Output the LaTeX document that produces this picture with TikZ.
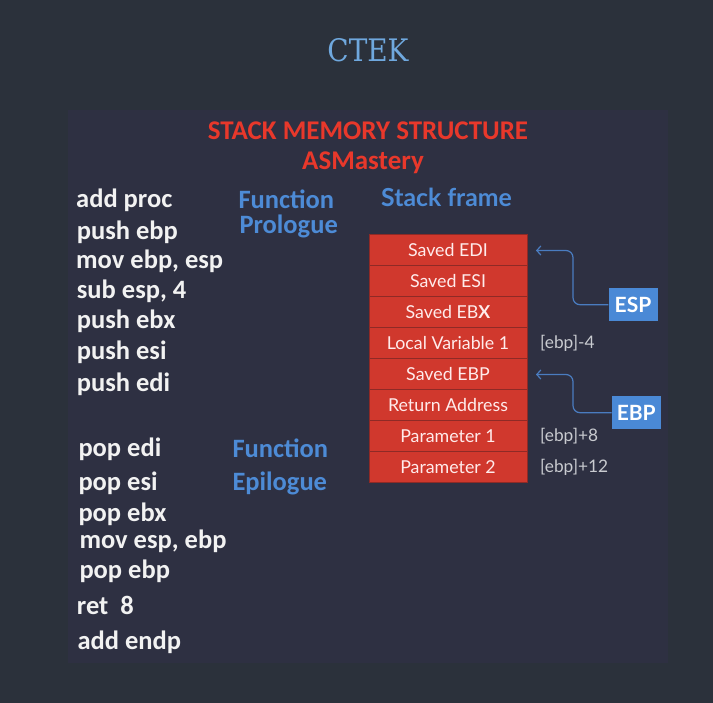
\documentclass[tikz,border=0pt]{standalone}
\usepackage{fontspec}
\setmainfont{Carlito}
\newfontfamily\latofont{Lato}
\newfontfamily\titlefont[FakeStretch=0.9]{DejaVu Serif}
\usepackage{tikz}
\definecolor{bg}{HTML}{2B313B}
\definecolor{panel}{HTML}{2E3042}
\definecolor{cellred}{HTML}{D0382D}
\definecolor{cellline}{HTML}{8E2A26}
\definecolor{headblue}{HTML}{4D8BD6}
\definecolor{regblue}{HTML}{4A89D6}
\definecolor{ptrblue}{HTML}{4A7CC0}
\definecolor{titlered}{HTML}{E8382B}
\definecolor{ctekblue}{HTML}{6FA8DE}
\definecolor{codewhite}{HTML}{F2F2F2}
\definecolor{offgray}{HTML}{C9CBD0}
\usetikzlibrary{positioning,arrows.meta}
\tikzstyle{code} = [anchor=base west, inner sep=0pt, text=codewhite,
    font=\bfseries\fontsize{26.5}{30}\selectfont]
\tikzstyle{phase} = [anchor=base west, inner sep=0pt, text=headblue,
    font=\bfseries\fontsize{26.5}{30}\selectfont]
\tikzstyle{cell} = [rectangle, draw=cellline, line width=1pt, fill=cellred, text=white!92!red,
    minimum width=158pt, minimum height=31pt, inner sep=0pt, outer sep=0pt,
    font=\latofont\fontsize{17.8}{20}\selectfont]
\tikzstyle{reg} = [rectangle, fill=regblue, text=white, minimum width=49pt, minimum height=33pt,
    inner sep=0pt, font=\latofont\bfseries\fontsize{21}{24}\selectfont]
\tikzstyle{offset} = [anchor=west, inner sep=0pt, text=offgray, font=\latofont\fontsize{17.3}{20}\selectfont]
\tikzstyle{pointer} = [draw=ptrblue, line width=1.2pt, rounded corners=7pt,
    -{Straight Barb[length=4pt,width=9pt]}]
\usetikzlibrary{calc}

\begin{document}
\begin{tikzpicture}[x=1pt, y=-1pt]
    \useasboundingbox (0,0) rectangle (713,703);
    \fill [bg] (0,0) rectangle (713,703);
    \fill [panel] (68,110) rectangle (668,663);
    % Place nodes
    \node [anchor=base, text=ctekblue, font=\titlefont\fontsize{31}{36}\selectfont] (ctek) at (368,62) {CTEK};
    \node [anchor=base, text=titlered, font=\bfseries\fontsize{27}{30}\selectfont] (title) at (368,140) {STACK MEMORY STRUCTURE};
    \node [anchor=base, text=titlered, font=\bfseries\fontsize{27}{30}\selectfont] (author) at (363,170) {ASMastery};
    \node [anchor=base west, inner sep=0pt, text=headblue, font=\latofont\bfseries\fontsize{24.8}{28}\selectfont] (frame) at (381,207) {Stack frame};
    \node [code] (addproc) at (76,208) {add proc};
    \node [code] (pushebp) at (76.7,240) {push ebp};
    \node [code] (movebp) at (76,268.3) {mov ebp, esp};
    \node [code] (subesp) at (76.7,298.3) {sub esp, 4};
    \node [code] (pushebx) at (76.7,328.3) {push ebx};
    \node [code] (pushesi) at (76.7,360) {push esi};
    \node [code] (pushedi) at (76.7,391.7) {push edi};
    \node [code] (popedi) at (78.3,456.7) {pop edi};
    \node [code] (popesi) at (78.3,490) {pop esi};
    \node [code] (popebx) at (78.3,521.7) {pop ebx};
    \node [code] (movesp) at (79.3,548.3) {mov esp, ebp};
    \node [code] (popebp) at (79.3,578.3) {pop ebp};
    \node [code] (ret) at (76.7,614.3) {ret\ \ 8};
    \node [code] (addendp) at (77.3,649.3) {add endp};
    \node [phase] (profunc) at (238.3,208.3) {Function};
    \node [phase] (prolog) at (239.3,233.3) {Prologue};
    \node [phase] (epifunc) at (232.3,457.3) {Function};
    \node [phase] (epilog) at (232.3,490.7) {Epilogue};
    \node [cell] (edi) at (448,250.5) {Saved EDI};
    \node [cell, below=0pt of edi] (esi) {Saved ESI};
    \node [cell, below=0pt of esi] (ebx) {Saved EB{\bfseries X}};
    \node [cell, below=0pt of ebx] (lv1) {Local Variable 1};
    \node [cell, below=0pt of lv1] (sebp) {Saved EBP};
    \node [cell, below=0pt of sebp] (retaddr) {Return Address};
    \node [cell, below=0pt of retaddr] (par1) {Parameter 1};
    \node [cell, below=0pt of par1] (par2) {Parameter 2};
    \node [offset, right=13pt of lv1] (offlv1) {[ebp]-4};
    \node [offset, right=13pt of par1] (offpar1) {[ebp]+8};
    \node [offset, right=13pt of par2] (offpar2) {[ebp]+12};
    \node [reg] (esp) at (633,304.7) {ESP};
    \node [reg] (ebp) at (636.2,412.7) {EBP};
    % Draw edges
    \path [pointer] (esp.west) -| ($(edi.east)+(46,0)$) -- ($(edi.east)+(9,0)$);
    \path [pointer] (ebp.west) -| ($(sebp.east)+(46,0)$) -- ($(sebp.east)+(9,0)$);
\end{tikzpicture}
\end{document}
